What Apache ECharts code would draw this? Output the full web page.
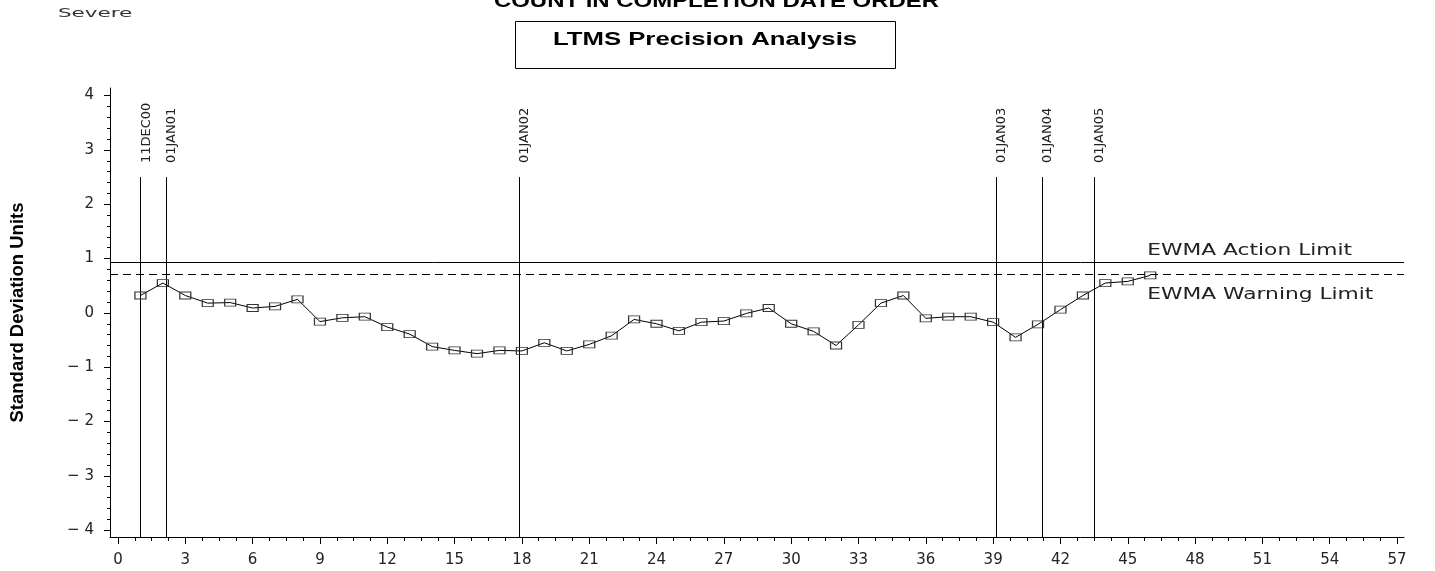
<!DOCTYPE html>
<html><head><meta charset="utf-8">
<script src="https://cdn.jsdelivr.net/npm/echarts@6/dist/echarts.min.js"></script>
<style>html,body{margin:0;padding:0;background:#fff}#c{width:1435px;height:571px}</style>
</head><body><div id="c"></div>
<script>
// ---- data ----
const testNumbers = [1,2,3,4,5,6,7,8,9,10,11,12,13,14,15,16,17,18,19,20,21,22,23,24,25,26,27,28,29,30,31,32,33,34,35,36,37,38,39,40,41,42,43,44,45,46];
const ewmaValues = [0.32,0.55,0.32,0.18,0.19,0.09,0.12,0.25,-0.16,-0.09,-0.07,-0.26,-0.39,-0.62,-0.69,-0.75,-0.69,-0.70,-0.55,-0.70,-0.58,-0.42,-0.12,-0.20,-0.33,-0.17,-0.15,-0.01,0.09,-0.20,-0.34,-0.60,-0.22,0.18,0.32,-0.10,-0.07,-0.07,-0.17,-0.45,-0.21,0.06,0.32,0.55,0.58,0.69];
const actionLimit = 0.935;
const warningLimit = 0.715;
const dateLinePositions = [1, 2.13, 17.86, 39.13, 41.18, 43.49];
const dateLineLabels = ['11DEC00','01JAN01','01JAN02','01JAN03','01JAN04','01JAN05'];
const dateLineTop = 2.5;
const limitLabels = ['EWMA Action Limit','EWMA Warning Limit'];
const limitLabelX = 45.87;
const xTickValues = [0,3,6,9,12,15,18,21,24,27,30,33,36,39,42,45,48,51,54,57];
const yTickValues = [-4,-3,-2,-1,0,1,2,3,4];
const titleText = 'COUNT IN COMPLETION DATE ORDER';
const boxText = 'LTMS Precision Analysis';
const cornerText = 'Severe';
const yAxisTitle = 'Standard Deviation Units';

// ---- layout constants ----
const X_MIN = -0.356, X_MAX = 57.31, Y_MIN = -4.125, Y_MAX = 4.14;
const xMinor = [];
for (let i = 0; i < xTickValues.length - 1; i++) for (let k = 1; k < 4; k++) xMinor.push(xTickValues[i] + k * 0.75);
const yMinor = [];
for (let i = 0; i < yTickValues.length - 1; i++) for (let k = 1; k < 5; k++) yMinor.push(+(yTickValues[i] + k * 0.2).toFixed(2));

const HFONT = '"DejaVu Sans", sans-serif';
const TXT = '#222';

const chart = echarts.init(document.getElementById('c'), null, {renderer: 'canvas'});
const option = {
  animation: false,
  backgroundColor: '#fff',
  grid: {left: 109, right: 31, top: 88, bottom: 34, containLabel: false},
  xAxis: [
    {type: 'value', min: X_MIN, max: X_MAX, splitLine: {show: false},
     axisLine: {show: true, onZero: false, lineStyle: {color: '#000', width: 1}},
     axisTick: {show: true, customValues: xTickValues, length: 7, lineStyle: {color: '#000'}},
     axisLabel: {show: true, customValues: xTickValues, margin: 16, fontFamily: HFONT, fontSize: 15, color: TXT}},
    {type: 'value', min: X_MIN, max: X_MAX, position: 'bottom', splitLine: {show: false},
     axisLine: {show: false, onZero: false},
     axisTick: {show: true, customValues: xMinor, length: 4, lineStyle: {color: '#000'}},
     axisLabel: {show: false}}
  ],
  yAxis: [
    {type: 'value', min: Y_MIN, max: Y_MAX, splitLine: {show: false},
     name: yAxisTitle, nameLocation: 'middle', nameRotate: 90, nameGap: 83,
     nameTextStyle: {fontFamily: '"Liberation Sans", Arial, sans-serif', fontWeight: 'bold', fontSize: 18.5, color: '#000'},
     axisLine: {show: true, onZero: false, lineStyle: {color: '#000', width: 1}},
     axisTick: {show: true, customValues: yTickValues, length: 6, lineStyle: {color: '#000'}},
     axisLabel: {show: true, customValues: yTickValues, margin: 16, fontFamily: HFONT, fontSize: 15, color: TXT,
       formatter: v => v < 0 ? '\u2212 ' + Math.abs(v) : String(v)}},
    {type: 'value', min: Y_MIN, max: Y_MAX, position: 'left', splitLine: {show: false},
     axisLine: {show: false, onZero: false},
     axisTick: {show: true, customValues: yMinor, length: 3, lineStyle: {color: '#000'}},
     axisLabel: {show: false}}
  ],
  graphic: [
    {type: 'text', x: 716.5, y: -6.5, scaleX: 1.33, style: {text: titleText, font: 'bold 18px "Liberation Sans", Arial, sans-serif', fill: '#000', align: 'center', verticalAlign: 'top'}},
    {type: 'text', x: 58, y: 7, scaleX: 1.65, style: {text: cornerText, font: '13px ' + HFONT, fill: '#333', align: 'left', verticalAlign: 'top'}},
    {type: 'rect', shape: {x: 515.5, y: 21.5, width: 380, height: 47}, style: {fill: 'none', stroke: '#000', lineWidth: 1}},
    {type: 'text', x: 705, y: 40, scaleX: 1.43, style: {text: boxText, font: 'bold 18px "Liberation Sans", Arial, sans-serif', fill: '#000', align: 'center', verticalAlign: 'middle'}}
  ],
  series: [
    {type: 'custom', name: 'dates', xAxisIndex: 0, yAxisIndex: 0, clip: false, silent: true,
     data: dateLinePositions.map((x, i) => [x, dateLineTop, i]),
     renderItem: function (params, api) {
       const x = api.value(0);
       const top = api.coord([x, api.value(1)]);
       const bot = api.coord([x, Y_MIN]);
       return {type: 'group', children: [
         {type: 'line', shape: {x1: Math.round(top[0]) + 0.5, y1: top[1], x2: Math.round(top[0]) + 0.5, y2: bot[1]}, style: {stroke: '#000', lineWidth: 1}},
         {type: 'text', x: top[0] + 6, y: top[1] - 14, rotation: Math.PI / 2,
          style: {text: dateLineLabels[api.value(2)], font: '13px ' + HFONT, fill: TXT, align: 'left', verticalAlign: 'middle'}}
       ]};
     }},
    {type: 'custom', name: 'limitLabels', xAxisIndex: 0, yAxisIndex: 0, clip: false, silent: true,
     data: [[limitLabelX, actionLimit, 0], [limitLabelX, warningLimit, 1]],
     renderItem: function (params, api) {
       const p = api.coord([api.value(0), api.value(1)]);
       const idx = api.value(2);
       return {type: 'text', x: p[0], y: idx === 0 ? p[1] - 11 : p[1] + 21, scaleX: 1.45,
         style: {text: limitLabels[idx], font: '15px ' + HFONT, fill: TXT, align: 'left', verticalAlign: 'middle'}};
     }},
    {type: 'line', name: 'EWMA', xAxisIndex: 0, yAxisIndex: 0,
     data: testNumbers.map((x, i) => [x, ewmaValues[i]]),
     symbol: 'rect', symbolSize: [11, 7], showSymbol: true,
     itemStyle: {color: 'rgba(255,255,255,0)', borderColor: '#333', borderWidth: 1},
     lineStyle: {color: '#000', width: 1},
     markLine: {silent: true, symbol: 'none', label: {show: false},
       data: [
         {yAxis: actionLimit, lineStyle: {color: '#000', width: 1, type: 'solid'}},
         {yAxis: warningLimit, lineStyle: {color: '#000', width: 1, type: [8, 5]}}
       ]}}
  ]
};
chart.setOption(option);
</script>
</body></html>
